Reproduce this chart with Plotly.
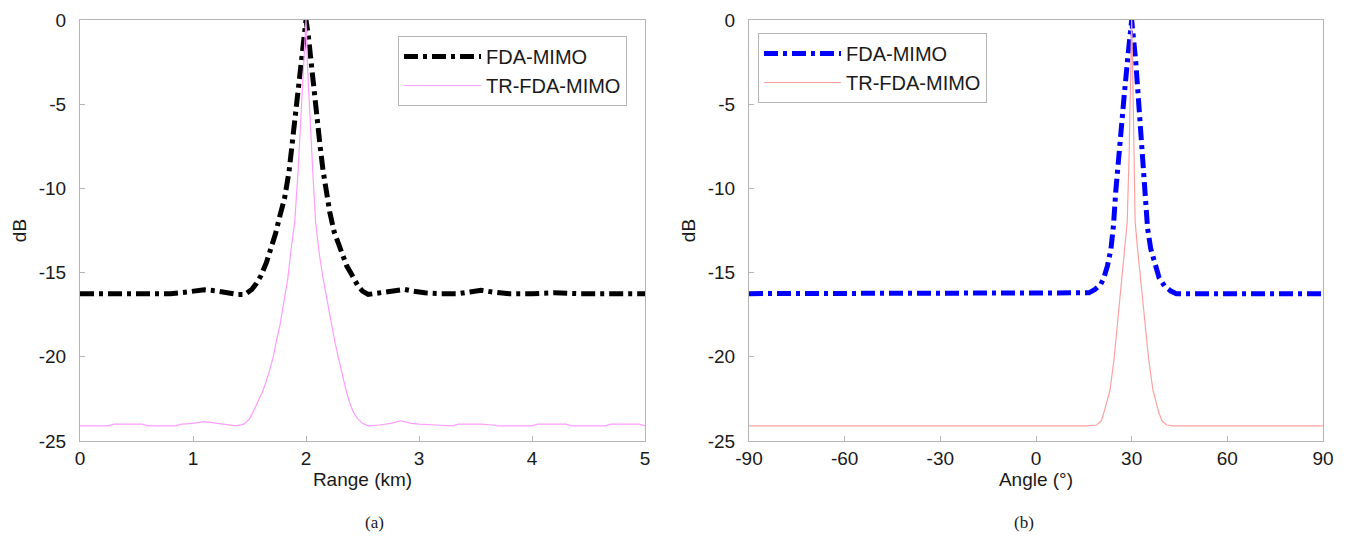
import plotly.graph_objects as go

# ---------------- data ----------------
# (a) range profile
range_fda_x = [0.0, 0.2, 0.35, 0.5, 0.65, 0.8, 0.95, 1.1, 1.2, 1.3, 1.4, 1.46,
               1.52, 1.56, 1.60, 1.65, 1.69, 1.73, 1.77, 1.81, 1.85, 1.88,
               1.91, 1.935, 1.96, 1.98, 2.0, 2.02, 2.045, 2.068, 2.095, 2.125,
               2.15, 2.18, 2.21, 2.25, 2.30, 2.36, 2.42, 2.46, 2.50, 2.55, 2.6,
               2.7, 2.8, 2.87, 2.95, 3.05, 3.2, 3.35, 3.45, 3.55, 3.65, 3.8,
               4.0, 4.2, 4.4, 4.6, 4.8, 5.0]
range_fda_y = [-16.25, -16.25, -16.2, -16.2, -16.25, -16.25, -16.15, -16.02,
               -16.08, -16.2, -16.3, -16.3, -16.0, -15.65, -15.2, -14.4, -13.6,
               -12.7, -11.6, -10.6, -9.0, -7.2, -5.3, -3.6, -2.0, -0.8, 0.0,
               -0.9, -2.6, -4.2, -5.8, -7.5, -8.9, -10.2, -11.4, -12.6, -13.6,
               -14.6, -15.3, -15.8, -16.1, -16.3, -16.25, -16.15, -16.05, -16.0,
               -16.1, -16.2, -16.25, -16.25, -16.15, -16.05, -16.15, -16.25,
               -16.25, -16.2, -16.25, -16.25, -16.2, -16.25]

range_tr_x = [0.0, 0.25, 0.3, 0.55, 0.6, 0.85, 0.9, 1.0, 1.1, 1.2, 1.3, 1.38,
              1.45, 1.5, 1.53, 1.57, 1.62, 1.67, 1.71, 1.74, 1.77, 1.80, 1.84,
              1.87, 1.90, 1.93, 1.955, 1.98, 2.0, 2.015, 2.035, 2.06, 2.085,
              2.12, 2.15, 2.19, 2.225, 2.255, 2.285, 2.32, 2.355, 2.39, 2.42,
              2.46, 2.5, 2.55, 2.65, 2.75, 2.84, 2.93, 3.0, 3.15, 3.3, 3.35,
              3.55, 3.65, 3.7, 4.0, 4.05, 4.3, 4.35, 4.65, 4.7, 4.95, 5.0]
range_tr_y = [-24.1, -24.1, -24.0, -24.0, -24.1, -24.1, -24.0, -23.95, -23.85,
              -23.95, -24.05, -24.1, -24.0, -23.7, -23.3, -22.7, -22.0, -21.0,
              -20.0, -19.0, -18.1, -16.9, -15.3, -13.5, -12.0, -9.0, -6.0,
              -3.0, 0.0, -3.0, -6.0, -9.0, -12.0, -14.0, -15.3, -16.8, -18.1,
              -19.1, -20.0, -21.0, -22.0, -22.8, -23.3, -23.7, -23.95, -24.1,
              -24.05, -23.95, -23.8, -23.95, -24.0, -24.05, -24.1, -24.0, -24.0,
              -24.05, -24.1, -24.1, -24.0, -24.0, -24.1, -24.1, -24.0, -24.0,
              -24.1]

# (b) angle profile
angle_fda_x = [-90, 15, 16.6, 18.5, 20.3, 21.3, 22.4, 23.5, 24.3, 25.0, 25.9,
               26.9, 27.7, 28.8, 30, 31.3, 32.3, 33.3, 34.2, 35.0, 36.0, 37.3,
               38.6, 40.3, 42.3, 44, 90]
angle_fda_y = [-16.25, -16.25, -16.2, -16.0, -15.7, -15.3, -14.6, -13.6,
               -12.2, -10.2, -8.0, -6.4, -4.4, -2.2, 0.0, -2.5, -5.4, -8.3,
               -10.8, -12.4, -13.6, -14.6, -15.3, -15.8, -16.1, -16.25, -16.25]

angle_tr_x = [-90, 16, 19, 20.5, 21.3, 22.2, 23.2, 24.5, 25.5, 26.3, 27.1, 28.0,
              28.6, 29.2, 29.6, 30, 30.4, 30.8, 31.1, 31.8, 32.7, 33.5, 34.2,
              35.3, 36.7, 37.6, 38.5, 39.5, 41, 43, 90]
angle_tr_y = [-24.1, -24.1, -24.05, -23.8, -23.3, -22.7, -22.0, -20.1, -18.1,
              -16.7, -15.3, -13.5, -12.0, -8.0, -4.0, 0.0, -4.0, -8.0, -12.0,
              -13.5, -15.3, -16.7, -18.1, -20.1, -22.0, -22.7, -23.3, -23.8,
              -24.05, -24.1, -24.1]

series_names = ["FDA-MIMO", "TR-FDA-MIMO"]
range_ticks = [0, 1, 2, 3, 4, 5]
angle_ticks = [-90, -60, -30, 0, 30, 60, 90]
db_ticks = [-25, -20, -15, -10, -5, 0]


def hyphen_labels(vals):
    return [str(v) for v in vals]  # plain ASCII hyphen-minus as in the reference


# ---------------- figure ----------------
W, H = 1350, 555
FONT = "Liberation Sans, Arial, Helvetica, sans-serif"
AXCOL = "#b4b4b4"
TXT = "#1a1a1a"
DASH = "14px,5px,4px,5px"

fig = go.Figure()

fig.add_trace(go.Scatter(x=range_fda_x, y=range_fda_y, mode="lines",
                         name=series_names[0], xaxis="x", yaxis="y",
                         legend="legend",
                         line=dict(color="black", width=5, dash=DASH)))
fig.add_trace(go.Scatter(x=range_tr_x, y=range_tr_y, mode="lines",
                         name=series_names[1], xaxis="x", yaxis="y",
                         legend="legend",
                         line=dict(color="#ff9cff", width=1.2)))
fig.add_trace(go.Scatter(x=angle_fda_x, y=angle_fda_y, mode="lines",
                         name=series_names[0], xaxis="x2", yaxis="y2",
                         legend="legend2",
                         line=dict(color="#0000ff", width=5, dash=DASH)))
fig.add_trace(go.Scatter(x=angle_tr_x, y=angle_tr_y, mode="lines",
                         name=series_names[1], xaxis="x2", yaxis="y2",
                         legend="legend2",
                         line=dict(color="#ffa0a0", width=1.2)))

PLOT_TOP, PLOT_BOT = 20, 441
ydom = [1 - PLOT_BOT / H, 1 - PLOT_TOP / H]
axis_common = dict(showline=True, linecolor=AXCOL, linewidth=1, mirror=True,
                   ticks="inside", ticklen=5, tickcolor=AXCOL,
                   showgrid=False, zeroline=False, automargin=False,
                   tickfont=dict(family=FONT, size=19, color=TXT),
                   title_font=dict(family=FONT, size=19, color=TXT))

LX0, LX1 = 80, 645
RX0, RX1 = 749, 1323

fig.update_layout(
    width=W, height=H,
    margin=dict(l=0, r=0, t=0, b=0, autoexpand=False),
    paper_bgcolor="white", plot_bgcolor="white",
    xaxis=dict(domain=[LX0 / W, LX1 / W], range=[0, 5], tickvals=range_ticks,
               ticktext=hyphen_labels(range_ticks),
               title=dict(text="Range (km)", standoff=4), anchor="y",
               **axis_common),
    yaxis=dict(domain=ydom, range=[-25, 0], tickvals=db_ticks,
               ticktext=hyphen_labels(db_ticks), ticklabelstandoff=9,
               title=dict(text="dB", standoff=7), anchor="x", **axis_common),
    xaxis2=dict(domain=[RX0 / W, RX1 / W], range=[-90, 90],
                tickvals=angle_ticks, ticktext=hyphen_labels(angle_ticks),
                title=dict(text="Angle (°)", standoff=4), anchor="y2",
                **axis_common),
    yaxis2=dict(domain=ydom, range=[-25, 0], tickvals=db_ticks,
                ticktext=hyphen_labels(db_ticks), ticklabelstandoff=9,
                title=dict(text="dB", standoff=7), anchor="x2", **axis_common),
    legend=dict(x=398 / W, y=1 - 36 / H, xanchor="left", yanchor="top",
                bgcolor="white", bordercolor=AXCOL, borderwidth=1,
                font=dict(family=FONT, size=20, color=TXT),
                itemwidth=77, tracegroupgap=0),
    legend2=dict(x=758 / W, y=1 - 33 / H, xanchor="left", yanchor="top",
                 bgcolor="white", bordercolor=AXCOL, borderwidth=1,
                 font=dict(family=FONT, size=20, color=TXT),
                 itemwidth=77, tracegroupgap=0),
    showlegend=True,
)

for txt, xc in [("(a)", (LX0 + LX1) / 2 / W), ("(b)", (RX0 + RX1) / 2 / W)]:
    fig.add_annotation(text=txt, x=xc, y=1 - 534 / H, xref="paper",
                       yref="paper", showarrow=False,
                       font=dict(family="Liberation Serif, Times New Roman, serif",
                                 size=17, color=TXT))

# the page's default 8px body margin would shift the figure; remove it
fig.write_html("out.html",
               config={"displayModeBar": False},
               post_script="document.body.style.margin='0';"
                           "document.body.style.overflow='hidden';")
